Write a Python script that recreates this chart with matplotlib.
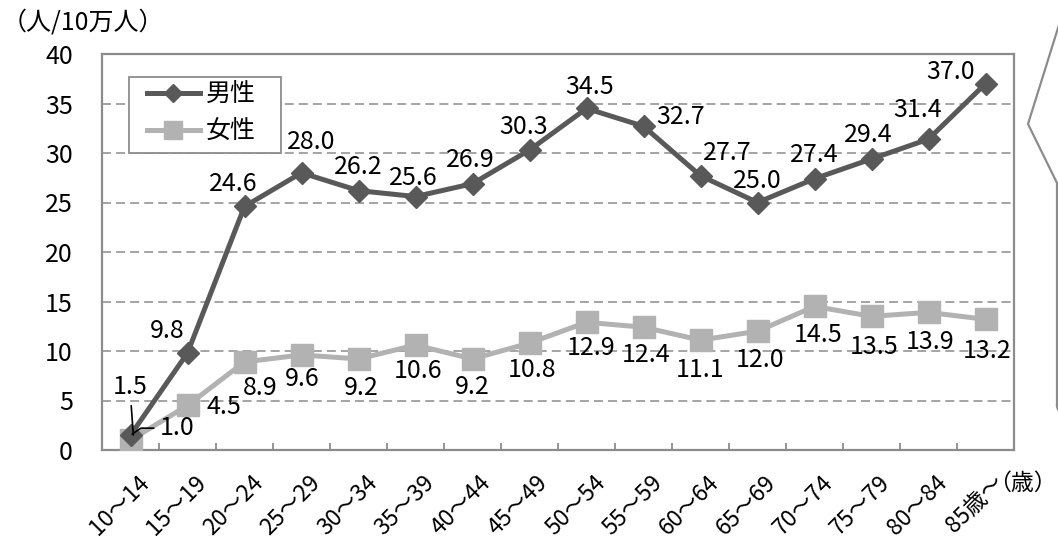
import matplotlib
matplotlib.use("Agg")
import matplotlib.pyplot as plt
from matplotlib.lines import Line2D
from matplotlib.patches import Rectangle
import matplotlib.transforms as mtrans
import numpy as np

plt.rcParams['font.family'] = ['Noto Sans CJK JP', 'DejaVu Sans']

categories = ["10～14", "15～19", "20～24", "25～29", "30～34", "35～39", "40～44",
              "45～49", "50～54", "55～59", "60～64", "65～69", "70～74", "75～79",
              "80～84", "85歳～"]
male = [1.5, 9.8, 24.6, 28.0, 26.2, 25.6, 26.9, 30.3, 34.5, 32.7, 27.7, 25.0,
        27.4, 29.4, 31.4, 37.0]
female = [1.0, 4.5, 8.9, 9.6, 9.2, 10.6, 9.2, 10.8, 12.9, 12.4, 11.1, 12.0,
          14.5, 13.5, 13.9, 13.2]
series_names = ["男性", "女性"]
y_ticks = [0, 5, 10, 15, 20, 25, 30, 35, 40]

# label offsets in pixels (dx, dy with +dy = downward on screen)
male_off = [(-3.5, -48), (-20, -22), (-11, -22), (10, -31), (0, -24), (-2, -19),
            (-2, -24), (-6, -23), (3, -21), (37, -9), (27, -23), (0, -22),
            (0, -24), (-3, -24), (-11, -29), (-35, -12)]
female_off = [(44.5, -6), (36, 2), (16, 26), (1, 24), (3, 29), (3, 26), (0, 28),
              (2, 27), (5, 26), (3, 28), (0, 30), (3, 29), (4, 29), (3, 31),
              (2, 30), (2, 32)]

W, H = 1058, 547
fig = plt.figure(figsize=(W / 100, H / 100), dpi=100)
L, R, T, B = 102, 1014, 54, 450
ax = fig.add_axes([L / W, (H - B) / H, (R - L) / W, (B - T) / H])

def ax_xy(px, py):
    return ((px - L) / (R - L), (B - py) / (B - T))

x = np.arange(len(categories))
male_c = "#595959"
female_c = "#b2b2b2"
grid_c = "#8c8c8c"

for yv in y_ticks[1:-1]:
    ax.axhline(yv, color=grid_c, lw=1.1, ls=(0, (5.9, 3.3)), zorder=1)

ax.plot(x, female, color=female_c, lw=3.6, marker='s', ms=16, mec=female_c,
        mfc=female_c, zorder=3, label=series_names[1])
ax.plot(x, male, color=male_c, lw=3.6, marker='D', ms=11.5, mec=male_c,
        mfc=male_c, zorder=4, label=series_names[0])

fs = 18
for i, (v, (dx, dy)) in enumerate(zip(male, male_off)):
    if i == 0:
        continue
    ax.annotate(f"{v:.1f}", (x[i], v), xytext=(dx, -dy), textcoords='offset pixels',
                ha='center', va='center', fontsize=fs, zorder=6)
for i, (v, (dx, dy)) in enumerate(zip(female, female_off)):
    if i == 0:
        continue
    ax.annotate(f"{v:.1f}", (x[i], v), xytext=(dx, -dy), textcoords='offset pixels',
                ha='center', va='center', fontsize=fs, zorder=6)

# leader-line labels for first category
dx, dy = male_off[0]
ax.annotate(f"{male[0]:.1f}", (x[0] + 0.05, male[0]), xytext=(dx, -dy),
            textcoords='offset pixels', ha='center', va='center', fontsize=fs,
            zorder=6, arrowprops=dict(arrowstyle='-', color='black', lw=1.2,
                                      shrinkA=2, shrinkB=0))
dx, dy = female_off[0]
ax.annotate(f"{female[0]:.1f}", (x[0] + 0.03, female[0] + 0.6), xytext=(dx, -dy),
            textcoords='offset pixels', ha='center', va='center', fontsize=fs,
            zorder=6, arrowprops=dict(arrowstyle='-', color='black', lw=1.2,
                                      shrinkA=2, shrinkB=0,
                                      connectionstyle="angle,angleA=0,angleB=35,rad=0"))

ax.set_xlim(-0.5, len(categories) - 0.5)
ax.set_ylim(0, 40)
ax.set_yticks(y_ticks)
ax.set_yticklabels([str(t) for t in y_ticks], fontsize=fs)
ax.tick_params(axis='y', length=0, pad=21)

ax.set_xticks(x)
ax.set_xticklabels(categories, fontsize=16.5, rotation=45, ha='right', va='top',
                   rotation_mode='anchor')
ax.tick_params(axis='x', which='major', length=0, pad=15)
ax.set_xticks(np.arange(-0.5, len(categories)), minor=True)
ax.tick_params(axis='x', which='minor', direction='in', length=5, width=1.3,
               color=grid_c)
offs = mtrans.ScaledTranslation(7 / 100, 0, fig.dpi_scale_trans)
for lab in ax.get_xticklabels():
    lab.set_transform(lab.get_transform() + offs)

for s in ax.spines.values():
    s.set_color(grid_c)
    s.set_linewidth(1.6)

# legend (frame drawn separately to match the reference's padding)
x0, y0 = ax_xy(129, 153)
x1, y1 = ax_xy(281, 77)
ax.add_patch(Rectangle((x0, y0), x1 - x0, y1 - y0, transform=ax.transAxes,
                       facecolor='white', edgecolor=grid_c, lw=1.3, zorder=7))
handles = [Line2D([], [], color=male_c, lw=3.6, marker='D', ms=9.5, mfc=male_c, mec=male_c),
           Line2D([], [], color=female_c, lw=3.6, marker='s', ms=13, mfc=female_c, mec=female_c)]
leg = ax.legend(handles, series_names, loc='upper left',
                bbox_to_anchor=ax_xy(147, 82),
                borderaxespad=0, fontsize=fs, handlelength=2.1, handletextpad=0.25,
                labelspacing=0.42, borderpad=0, frameon=False)
leg.set_zorder(8)

# axis unit texts
fig.text(2 / W, 1 - 22 / H, "（人/10万人）", fontsize=fs, ha='left', va='center')
fig.text(1057 / W, 1 - 483 / H, "（歳）", fontsize=16.5, ha='right', va='center')

# partial callout shape at right edge
px = [1063, 1028, 1057, 1057]
py = [12, 124, 183, 405]
fig.add_artist(Line2D([p / W for p in px], [1 - p / H for p in py],
                      color="#8c8c8c", lw=1.6, transform=fig.transFigure))
t = np.linspace(np.pi, 1.5 * np.pi, 20)
fig.add_artist(Line2D([(1067 + 10 * np.cos(a)) / W for a in t],
                      [1 - (405 - 10 * np.sin(a)) / H for a in t],
                      color="#8c8c8c", lw=1.6, transform=fig.transFigure))

fig.savefig("out.png", dpi=100)
